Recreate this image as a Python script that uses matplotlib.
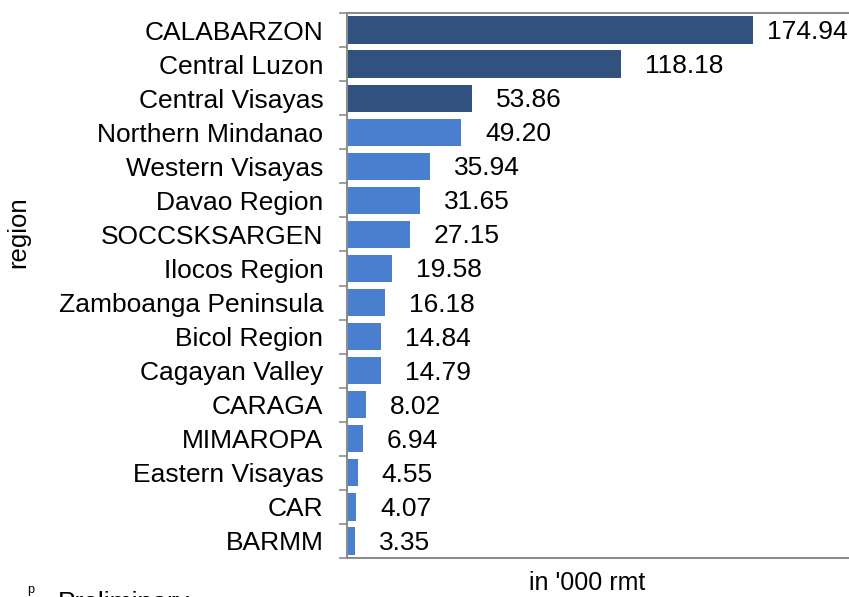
import matplotlib.pyplot as plt
import matplotlib.transforms as mtransforms

plt.rcParams['font.family'] = ['Liberation Sans', 'DejaVu Sans']

regioes = ['CALABARZON', 'Central Luzon', 'Central Visayas', 'Northern Mindanao',
           'Western Visayas', 'Davao Region', 'SOCCSKSARGEN', 'Ilocos Region',
           'Zamboanga Peninsula', 'Bicol Region', 'Cagayan Valley', 'CARAGA',
           'MIMAROPA', 'Eastern Visayas', 'CAR', 'BARMM']
valores = [174.94, 118.18, 53.86, 49.20, 35.94, 31.65, 27.15, 19.58,
           16.18, 14.84, 14.79, 8.02, 6.94, 4.55, 4.07, 3.35]
top_n = 3

cor_escura = '#31527f'
cor_clara = '#4a7fcf'
cinza = '#8c8c8c'

fig = plt.figure(figsize=(8.49, 5.97), dpi=100)
ax = fig.add_axes([347 / 849, 1 - 558 / 597, 1 - 347 / 849, (558 - 13) / 597])

n = len(regioes)
pos = list(range(n))
cores = [cor_escura if i < top_n else cor_clara for i in range(n)]
ax.barh(pos, valores, height=0.8, color=cores, edgecolor='none')
ax.set_ylim(n - 0.5, -0.5)
ax.set_xlim(0, 216.3)

ax.set_yticks(pos)
ax.set_yticklabels(regioes, fontsize=19)
ax.set_yticks([p + 0.5 for p in range(-1, n)], minor=True)
ax.tick_params(axis='y', which='major', length=0, pad=17)
ax.tick_params(axis='y', which='minor', length=6, width=1.2, color=cinza)
ax.set_xticks([])

for lado in ['left', 'bottom', 'top']:
    ax.spines[lado].set_color(cinza)
    ax.spines[lado].set_linewidth(1.5)
ax.spines['right'].set_visible(False)

for i, v in enumerate(valores):
    desloc = 14 if v == max(valores) else 24
    off = mtransforms.offset_copy(ax.transData, fig=fig, x=desloc, y=-2, units='dots')
    ax.text(v, i, f'{v:.2f}', transform=off, ha='left', va='center', fontsize=19)

fig.text(18 / 849, 1 - 232 / 597, 'region', rotation=90, ha='center', va='center', fontsize=18.5)
fig.text(587 / 849, 1 - 583 / 597, "in '000 rmt", ha='center', va='center', fontsize=18)
fig.text(27 / 849, 1 - 590 / 597, 'p', ha='left', va='center', fontsize=9)
fig.text(58 / 849, 1 - 603 / 597, 'Preliminary', ha='left', va='center', fontsize=19)

fig.savefig('out.png', dpi=100)
